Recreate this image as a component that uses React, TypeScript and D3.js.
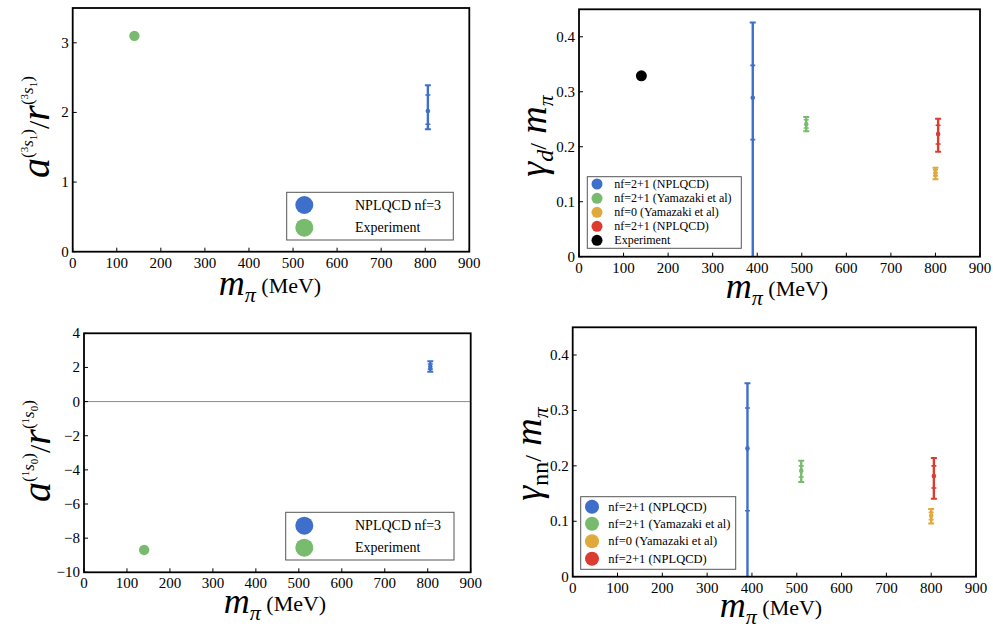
import React from "react";
import * as d3 from "d3";

// ---------- data ----------
const xTickValues = [0, 100, 200, 300, 400, 500, 600, 700, 800, 900];

const colorBlue = "#3D6FCB";
const colorGreen = "#78BB6E";
const colorOrange = "#E0A93B";
const colorRed = "#DB3B30";
const colorBlack = "#000000";

// Panel A: a/r (3S1)
const a3s1Labels = ["NPLQCD nf=3", "Experiment"];
const a3s1Colors = [colorBlue, colorGreen];
const a3s1Mpi = [806, 140];
const a3s1Center = [2.02, 3.1];
const a3s1StatLo = [1.83, NaN];
const a3s1StatHi = [2.25, NaN];
const a3s1TotLo = [1.76, NaN];
const a3s1TotHi = [2.39, NaN];
const a3s1YTicks = [0, 1, 2, 3];

// Panel B: gamma_d / m_pi
const gdLabels = [
  "nf=2+1 (NPLQCD)",
  "nf=2+1 (Yamazaki et al)",
  "nf=0 (Yamazaki et al)",
  "nf=2+1 (NPLQCD)",
  "Experiment",
];
const gdColors = [colorBlue, colorGreen, colorOrange, colorRed, colorBlack];
const gdMpi = [390, 510, 800, 806, 140];
const gdCenter = [0.289, 0.241, 0.152, 0.223, 0.329];
const gdStatLo = [0.213, 0.234, 0.147, 0.205, NaN];
const gdStatHi = [0.348, 0.249, 0.158, 0.239, NaN];
const gdTotLo = [-0.05, 0.228, 0.141, 0.191, NaN];
const gdTotHi = [0.426, 0.254, 0.162, 0.251, NaN];
const gammaYTicks = [0, 0.1, 0.2, 0.3, 0.4];

// Panel C: a/r (1S0)
const a1s0Labels = ["NPLQCD nf=3", "Experiment"];
const a1s0Colors = [colorBlue, colorGreen];
const a1s0Mpi = [806, 140];
const a1s0Center = [2.04, -8.69];
const a1s0StatLo = [1.9, NaN];
const a1s0StatHi = [2.2, NaN];
const a1s0TotLo = [1.75, NaN];
const a1s0TotHi = [2.36, NaN];
const a1s0YTicks = [-10, -8, -6, -4, -2, 0, 2, 4];

// Panel D: gamma_nn / m_pi
const gnnLabels = [
  "nf=2+1 (NPLQCD)",
  "nf=2+1 (Yamazaki et al)",
  "nf=0 (Yamazaki et al)",
  "nf=2+1 (NPLQCD)",
];
const gnnColors = [colorBlue, colorGreen, colorOrange, colorRed];
const gnnMpi = [390, 510, 800, 806];
const gnnCenter = [0.2315, 0.191, 0.11, 0.1815];
const gnnStatLo = [0.119, 0.18, 0.103, 0.16];
const gnnStatHi = [0.3045, 0.2, 0.116, 0.2];
const gnnTotLo = [-0.05, 0.171, 0.096, 0.1405];
const gnnTotHi = [0.349, 0.209, 0.122, 0.214];

// ---------- components ----------
const SERIF = "Liberation Serif, Times New Roman, DejaVu Serif, serif";
const serifStyle = { fontFamily: SERIF } as React.CSSProperties;

type Frame = { l: number; t: number; r: number; b: number };
type LegendCfg = {
  x: number; y: number; w: number; h: number;
  rows: number[]; cx: number; cr: number; tx: number; fs: number;
};

function fmtTick(v: number) {
  const s = Math.abs(v) < 1e-9 ? "0" : String(+v.toFixed(2));
  return s.replace("-", "\u2212");
}

function Panel(props: {
  id: string;
  frame: Frame;
  yDomain: [number, number];
  yTicks: number[];
  mpi: number[];
  center: number[];
  statLo: number[];
  statHi: number[];
  totLo: number[];
  totHi: number[];
  colors: string[];
  labels: string[];
  legend: LegendCfg;
  dotR: number;
  zeroLine?: boolean;
}) {
  const { frame, legend } = props;
  const x = d3.scaleLinear().domain([0, 900]).range([frame.l, frame.r]);
  const y = d3.scaleLinear().domain(props.yDomain).range([frame.b, frame.t]);
  const clipId = "clip-" + props.id;
  return (
    <g style={serifStyle}>
      <defs>
        <clipPath id={clipId}>
          <rect x={frame.l} y={frame.t} width={frame.r - frame.l} height={frame.b - frame.t} />
        </clipPath>
      </defs>
      {props.zeroLine && (
        <line x1={frame.l} x2={frame.r} y1={y(0)} y2={y(0)} stroke="#8a8a8a" strokeWidth={1} />
      )}
      <g clipPath={`url(#${clipId})`}>
        {props.mpi.map((m, i) => {
          const cx = x(m);
          const col = props.colors[i];
          if (isNaN(props.totLo[i])) {
            return <circle key={i} cx={cx} cy={y(props.center[i])} r={props.dotR} fill={col} />;
          }
          const hw = 3;
          return (
            <g key={i} stroke={col} fill={col}>
              <line x1={cx} x2={cx} y1={y(props.totLo[i])} y2={y(props.totHi[i])} strokeWidth={2.4} />
              <line x1={cx - hw} x2={cx + hw} y1={y(props.totLo[i])} y2={y(props.totLo[i])} strokeWidth={2} />
              <line x1={cx - hw} x2={cx + hw} y1={y(props.totHi[i])} y2={y(props.totHi[i])} strokeWidth={2} />
              <line x1={cx - 2.5} x2={cx + 2.5} y1={y(props.statLo[i])} y2={y(props.statLo[i])} strokeWidth={1.6} />
              <line x1={cx - 2.5} x2={cx + 2.5} y1={y(props.statHi[i])} y2={y(props.statHi[i])} strokeWidth={1.6} />
              <circle cx={cx} cy={y(props.center[i])} r={2.3} stroke="none" />
            </g>
          );
        })}
      </g>
      {/* frame */}
      <rect x={frame.l} y={frame.t} width={frame.r - frame.l} height={frame.b - frame.t}
        fill="none" stroke="#000" strokeWidth={1.8} />
      {/* x ticks */}
      {xTickValues.map((v) => (
        <g key={"x" + v}>
          <line x1={x(v)} x2={x(v)} y1={frame.b} y2={frame.b - 4} stroke="#000" strokeWidth={1} />
          <text x={x(v)} y={frame.b + 16} textAnchor="middle" style={serifStyle} fontSize={15}>{fmtTick(v)}</text>
        </g>
      ))}
      {props.yTicks.map((v) => (
        <g key={"y" + v}>
          <line x1={frame.l} x2={frame.l + 4} y1={y(v)} y2={y(v)} stroke="#000" strokeWidth={1} />
          <text x={frame.l - 4} y={y(v) + 5} textAnchor="end" style={serifStyle} fontSize={15}>{fmtTick(v)}</text>
        </g>
      ))}
      {/* legend */}
      <rect x={legend.x} y={legend.y} width={legend.w} height={legend.h} fill="#fff" stroke="#555" strokeWidth={1} />
      {props.labels.map((lab, i) => (
        <g key={"l" + i}>
          <circle cx={legend.cx} cy={legend.rows[i]} r={legend.cr} fill={props.colors[i]} />
          <text x={legend.tx} y={legend.rows[i] + legend.fs * 0.33} style={serifStyle} fontSize={legend.fs}>{lab}</text>
        </g>
      ))}
    </g>
  );
}

function XLabel({ cx, y }: { cx: number; y: number }) {
  return (
    <text x={cx} y={y} textAnchor="middle" style={serifStyle}>
      <tspan fontStyle="italic" fontSize={36}>m</tspan>
      <tspan fontStyle="italic" fontSize={22} dy={7}>π</tspan>
      <tspan fontSize={22} dy={-9}>{" (MeV)"}</tspan>
    </text>
  );
}

function ARLabel({ x, y, wave }: { x: number; y: number; wave: [string, string] }) {
  const sup = (k: string) => [
    <tspan key={k + "a"} fontSize={17} dy={-16}>(</tspan>,
    <tspan key={k + "b"} fontSize={11} dy={-5}>{wave[0]}</tspan>,
    <tspan key={k + "c"} fontSize={17} fontStyle="italic" dy={5}>s</tspan>,
    <tspan key={k + "d"} fontSize={11} dy={4}>{wave[1]}</tspan>,
    <tspan key={k + "e"} fontSize={17} dy={-4}>)</tspan>,
  ];
  return (
    <text transform={`translate(${x},${y}) rotate(-90)`} textAnchor="middle" style={serifStyle}>
      <tspan fontStyle="italic" fontSize={40}>a</tspan>
      {sup("1")}
      <tspan fontSize={30} dy={16}>/</tspan>
      <tspan fontStyle="italic" fontSize={40}>r</tspan>
      {sup("2")}
    </text>
  );
}

function GammaLabel({ x, y, sub, subItalic }: { x: number; y: number; sub: string; subItalic: boolean }) {
  return (
    <text transform={`translate(${x},${y}) rotate(-90)`} textAnchor="middle" style={serifStyle}>
      <tspan fontStyle="italic" fontSize={38}>γ</tspan>
      <tspan fontStyle={subItalic ? "italic" : "normal"} fontSize={24} dy={7}>{sub}</tspan>
      <tspan fontSize={24} dy={-7}>/</tspan>
      <tspan fontStyle="italic" fontSize={38}>{" m"}</tspan>
      <tspan fontStyle="italic" fontSize={22} dy={7}>π</tspan>
    </text>
  );
}

export default function App() {
  return (
    <svg width={993} height={628} style={{ position: "absolute", left: 0, top: 0, background: "#fff" }}>
      <rect width={993} height={628} fill="#fff" />
      <Panel id="a" frame={{ l: 72.7, t: 8, r: 469.3, b: 251.7 }} yDomain={[0, 3.5]} yTicks={a3s1YTicks}
        mpi={a3s1Mpi} center={a3s1Center} statLo={a3s1StatLo} statHi={a3s1StatHi}
        totLo={a3s1TotLo} totHi={a3s1TotHi} colors={a3s1Colors} labels={a3s1Labels} dotR={5.2}
        legend={{ x: 286.7, y: 192.3, w: 166.6, h: 47.7, rows: [205, 227.7], cx: 304.3, cr: 9, tx: 355, fs: 14 }} />
      <Panel id="b" frame={{ l: 579, t: 9.3, r: 980, b: 256.7 }} yDomain={[0, 0.45]} yTicks={gammaYTicks}
        mpi={gdMpi} center={gdCenter} statLo={gdStatLo} statHi={gdStatHi}
        totLo={gdTotLo} totHi={gdTotHi} colors={gdColors} labels={gdLabels} dotR={5.5}
        legend={{ x: 587.3, y: 176.7, w: 154, h: 71.6, rows: [184, 198.3, 212.3, 226.3, 240.3], cx: 597, cr: 5.5, tx: 614.3, fs: 12 }} />
      <Panel id="c" frame={{ l: 84, t: 333.3, r: 470.7, b: 572.3 }} yDomain={[-10, 4]} yTicks={a1s0YTicks}
        mpi={a1s0Mpi} center={a1s0Center} statLo={a1s0StatLo} statHi={a1s0StatHi}
        totLo={a1s0TotLo} totHi={a1s0TotHi} colors={a1s0Colors} labels={a1s0Labels} dotR={5.2} zeroLine
        legend={{ x: 285.7, y: 512.3, w: 168.3, h: 47.7, rows: [525.7, 547.7], cx: 304.3, cr: 9, tx: 355, fs: 14 }} />
      <Panel id="d" frame={{ l: 572.7, t: 327.3, r: 976, b: 576.7 }} yDomain={[0, 0.45]} yTicks={gammaYTicks}
        mpi={gnnMpi} center={gnnCenter} statLo={gnnStatLo} statHi={gnnStatHi}
        totLo={gnnTotLo} totHi={gnnTotHi} colors={gnnColors} labels={gnnLabels} dotR={5.5}
        legend={{ x: 580.7, y: 496.7, w: 155, h: 72.6, rows: [506.7, 523.7, 541.3, 558.7], cx: 592, cr: 7, tx: 608.3, fs: 12.5 }} />

      <XLabel cx={270} y={295} />
      <XLabel cx={777} y={298} />
      <XLabel cx={275} y={613} />
      <XLabel cx={771} y={617} />

      <ARLabel x={49} y={127} wave={["3", "1"]} />
      <ARLabel x={50} y={451} wave={["1", "0"]} />
      <GammaLabel x={546} y={136} sub="d" subItalic />
      <GammaLabel x={541} y={454} sub="nn" subItalic={false} />
    </svg>
  );
}
